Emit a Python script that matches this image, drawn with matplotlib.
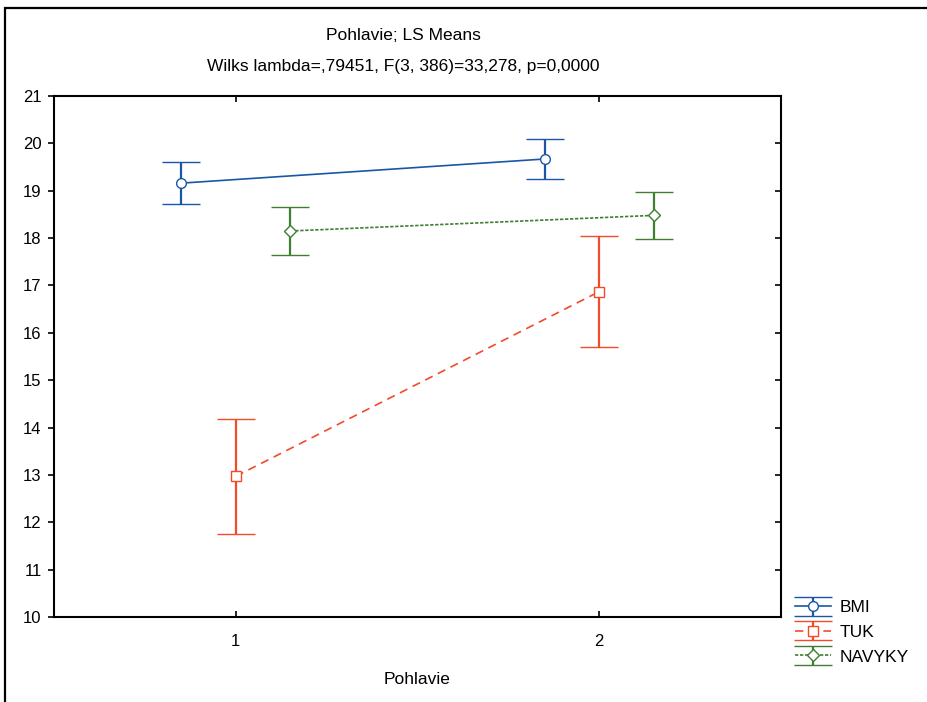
import matplotlib
matplotlib.use("Agg")
import matplotlib.pyplot as plt
from matplotlib.patches import Rectangle
from matplotlib.legend_handler import HandlerErrorbar
from matplotlib.container import ErrorbarContainer
import numpy as np

plt.rcParams['font.family'] = ['Liberation Sans', 'DejaVu Sans']

# data
groups = [1, 2]
series = ['BMI', 'TUK', 'NAVYKY']
offsets = [-0.15, 0.0, 0.15]
means = {
    'BMI': [19.16, 19.67],
    'TUK': [12.97, 16.87],
    'NAVYKY': [18.15, 18.48],
}
ci = {
    'BMI': [0.45, 0.43],
    'TUK': [1.21, 1.17],
    'NAVYKY': [0.50, 0.49],
}
colors = {'BMI': '#1a56a8', 'TUK': '#f24b2a', 'NAVYKY': '#3f7f32'}
markers = {'BMI': 'o', 'TUK': 's', 'NAVYKY': 'D'}
msizes = {'BMI': 7, 'TUK': 6.5, 'NAVYKY': 6}
styles = {'BMI': '-', 'TUK': (0, (5, 3.5)), 'NAVYKY': (0, (2, 1))}
legend_names = ['BMI', 'TUK', 'NAVYKY']

fig = plt.figure(figsize=(9.27, 7.02), dpi=100)
ax = fig.add_axes([54/927, 1-617/702, (781-54)/927, (617-96)/702])

handles = []
for s, off in zip(series, offsets):
    x = np.array(groups) + off
    h = ax.errorbar(x, means[s], yerr=ci[s], color=colors[s], linestyle=styles[s],
                    linewidth=1.2, marker=markers[s], markersize=msizes[s],
                    markerfacecolor='white', markeredgecolor=colors[s], markeredgewidth=1.0,
                    elinewidth=1.6, capsize=13.5, capthick=1.6, zorder=3)
    handles.append(h)

ax.set_xlim(0.5, 2.5)
ax.set_ylim(10, 21)
ax.set_xticks(groups)
ax.set_yticks(range(10, 22))
ax.tick_params(axis='y', direction='out', length=4, width=1.2, labelsize=12, pad=5,
               right=True)
ax.tick_params(axis='x', direction='in', length=4, width=1.2, labelsize=12, pad=12,
               top=True)
for sp in ax.spines.values():
    sp.set_linewidth(1.5)
# right side ticks point inward
for t in ax.yaxis.get_major_ticks():
    t.tick2line.set_marker(matplotlib.markers.TICKLEFT)

ax.set_xlabel('Pohlavie', fontsize=12.5, labelpad=17)

fig.text(403/927, 1-36/702, 'Pohlavie; LS Means', ha='center', va='center', fontsize=12.5)
fig.text(403/927, 1-66/702, 'Wilks lambda=,79451, F(3, 386)=33,278, p=0,0000',
         ha='center', va='center', fontsize=12.5)

leg = fig.legend(handles, legend_names, loc='upper left', bbox_to_anchor=(795/927, 1-600/702),
                 frameon=False, fontsize=12.5, handlelength=2.1, handletextpad=0.45,
                 labelspacing=0.55, borderaxespad=0, borderpad=0,
                 handler_map={ErrorbarContainer: HandlerErrorbar(xerr_size=0.5, yerr_size=0.55)})

# outer frame
fig.patches.append(Rectangle((5/927, -0.5), 2, 1.5 - 8/702, transform=fig.transFigure,
                             fill=False, edgecolor='black', linewidth=1.6))

fig.savefig('out.png', dpi=100)
